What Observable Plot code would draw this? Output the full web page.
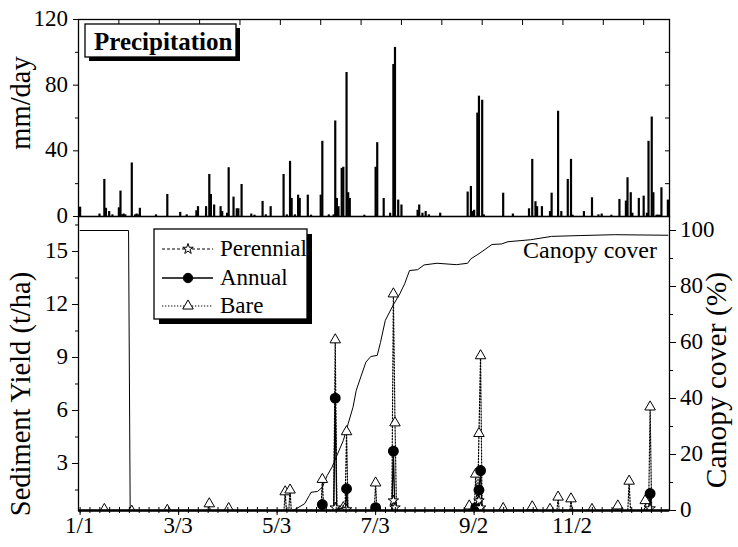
<!DOCTYPE html>
<html><head><meta charset="utf-8">
<script src="https://cdn.jsdelivr.net/npm/d3@7"></script>
<script src="https://cdn.jsdelivr.net/npm/@observablehq/plot@0.6"></script>
<style>
html,body{margin:0;padding:0;background:#fff;}
#chart{position:relative;width:738px;height:547px;}
#chart svg{position:absolute;left:0;top:0;}
.lbl{position:absolute;font-family:"Liberation Serif","Times New Roman",serif;line-height:1;white-space:nowrap;color:#000;}
</style></head><body><div id="chart"></div>
<script>
// ---- data ----
const precipDays = [1,13,16,17,19,21,25,26,27,28,29,33,35,36,37,38,48,55,63,67,73,74,79,81,82,84,88,89,92,93,96,98,99,101,107,109,114,116,119,127,129,131,132,134,136,137,142,144,150,151,155,158,159,160,161,163,164,166,167,168,177,184,185,189,193,195,196,198,200,210,211,213,215,217,224,241,243,244,245,247,248,250,251,263,269,279,281,283,284,287,292,293,297,299,303,305,306,313,318,322,324,330,335,339,340,342,343,347,350,352,353,355,356,358,359,360,361,365];
const precipVals = [5.7,1.5,22.6,5,3,1,5.3,15.5,1,1.5,1,32.6,1,1.5,1,5,1,13.4,2.5,1,3.5,6,6,25.6,13.4,7,6,3,2,29.7,11.8,4.7,4.7,19.5,1.5,0.8,9.2,1,6,25.6,1,33.6,11,1,13,11,13,0.8,13,45.8,1,1,58.2,11,6,29.3,30,87.7,14.5,11,0.8,30,45,11,2,92.6,103,10,7,3.8,7,2,3,1,2,14.9,18.3,3,3.8,63,73.3,70.8,1,14.2,1.5,4.7,34.8,9,6,6,3,14.2,64.1,3,22.6,34.8,0.8,3,11.4,1,1.5,0.8,10.4,9.4,23.6,14.5,2,11,12.4,2,45.8,60.6,14.5,0.8,0.8,0.8,17.5,10];

const perennialDays = [159,164,166,195,196,248,249,354];
const perennialVals = [0.5,0.35,0.4,0.9,0.5,0.9,0.5,0.45];
const annualDays = [151,159,166,184,195,246,248,249,354];
const annualVals = [0.68,6.7,1.57,0.5,3.7,0.5,1.5,2.6,1.3];
const bareDays = [16,33,55,81,93,128,131,151,159,164,166,184,195,196,242,246,248,249,263,281,292,297,305,318,334,341,351,354];
const bareVals = [0.4,0.3,0.35,0.72,0.45,1.4,1.5,2.1,10.0,0.5,4.8,1.9,12.6,5.3,0.6,2.4,4.7,9.1,0.45,0.55,0.4,1.1,1.0,0.4,0.6,2.0,0.9,6.2];

const canopyDays = [1,31,32,133,140,143,144,148,151,154,157,160,164,167,170,172,175,178,181,185,187,190,195,199,202,205,210,214,222,234,241,243,248,256,262,266,274,280,293,311,332,365];
const canopyVals = [100,100,0,0,2.4,5.4,6.5,6.8,8.3,12.5,15.5,19.6,25,31,36.9,42.9,48,53,55,55.4,60,67.9,73.5,77.4,81,85.7,86,87.7,88.3,87.8,88.3,89.9,91.7,95,95.2,96,96.4,96.7,97.9,98.2,98.5,98.3];

const xTickDays = [1,62,123,184,245,306];
const xTickLabels = ["1/1","3/3","5/3","7/3","9/2","11/2"];
const precipTicks = [0,40,80,120];
const precipMinor = [20,60,100];
const sedTicks = [3,6,9,12,15];
const sedMinor = [1.5,4.5,7.5,10.5,13.5,16.5];
const canopyTicks = [0,20,40,60,80,100];
const canopyMinor = [10,30,50,70,90];
const seriesNames = ["Perennial","Annual","Bare"];

// ---- tables ----
const precip = precipDays.map((d,i)=>({day:d, mm:precipVals[i]}));
const canopy = canopyDays.map((d,i)=>({day:d, cover:canopyVals[i]}));
const allDays = d3.range(1, 366);
function daily(days, vals){ const m = new Map(days.map((d,i)=>[d, vals[i]])); return allDays.map(d=>({day:d, t: m.get(d) ?? 0})); }
function events(days, vals){ return days.map((d,i)=>({day:d, t:vals[i]})); }
const perDaily = daily(perennialDays, perennialVals), annDaily = daily(annualDays, annualVals), bareDaily = daily(bareDays, bareVals);
const perEv = events(perennialDays, perennialVals), annEv = events(annualDays, annualVals), bareEv = events(bareDays, bareVals);

// ---- layout ----
const W=738, H=547, ML=78, MR=69;
const xDomain = [0, 366];
const sedDomain = [0.34, 16.98];
const common = {width:W, height:H, marginLeft:ML, marginRight:MR,
  style:{background:"transparent", color:"black", overflow:"visible"}};
const minorX = d3.range(1, 366, 6.1);
const topTicks = d3.range(25, 366, 25);
const noText = () => "";

// canopy layer (bottom)
const canopyChart = Plot.plot({...common, marginTop:216, marginBottom:37,
  x:{domain:xDomain, axis:null}, y:{domain:[0,105]},
  marks:[
    Plot.line(canopy, {x:"day", y:"cover", stroke:"black", strokeWidth:1}),
    Plot.axisY({anchor:"right", ticks:canopyTicks, tickSize:6, label:null, tickFormat:noText}),
    Plot.axisY({anchor:"right", ticks:canopyMinor, tickSize:3, label:null, tickFormat:noText})
  ]});

// sediment layer
const symR = {star:3.3, circle:4.7, triangle:3.9};
const sedChart = Plot.plot({...common, marginTop:216, marginBottom:37,
  x:{domain:xDomain}, y:{domain:sedDomain},
  marks:[
    Plot.line(bareDaily, {x:"day", y:"t", stroke:"black", strokeWidth:1.2, strokeDasharray:"1.3,1.7", clip:true}),
    Plot.line(perDaily, {x:"day", y:"t", stroke:"black", strokeWidth:1, strokeDasharray:"3,2", clip:true}),
    Plot.line(annDaily, {x:"day", y:"t", stroke:"black", strokeWidth:1.3, clip:true}),
    Plot.dot(bareEv, {x:"day", y:"t", symbol:"triangle", r:symR.triangle, fill:"white", stroke:"black", strokeWidth:1, clip:true}),
    Plot.dot(annEv, {x:"day", y:"t", symbol:"circle", r:symR.circle, fill:"black", stroke:"black", clip:true}),
    Plot.dot(perEv, {x:"day", y:"t", symbol:"star", r:symR.star, fill:"white", stroke:"black", strokeWidth:1, clip:true}),
    Plot.axisY({ticks:sedTicks, tickSize:6, label:null, tickFormat:noText}),
    Plot.axisY({ticks:sedMinor, tickSize:3, label:null, tickFormat:noText}),
    Plot.axisX({ticks:xTickDays, tickSize:5, label:null, tickFormat:noText}),
    Plot.axisX({ticks:minorX, tickSize:3, label:null, tickFormat:noText}),
    Plot.axisX({ticks:minorX, tickSize:-3, label:null, tickFormat:noText}),
    Plot.ruleY([sedDomain[0]], {stroke:"black", strokeWidth:2.5}),
    Plot.frame({stroke:"black", strokeWidth:1.3})
  ]});

// precipitation layer (top)
const topChart = Plot.plot({...common, marginTop:19, marginBottom:331,
  x:{domain:xDomain}, y:{domain:[0,120]},
  marks:[
    Plot.ruleX(precip, {x:"day", y1:0, y2:"mm", stroke:"black", strokeWidth:2.2}),
    Plot.axisY({ticks:precipTicks, tickSize:5, label:null, tickFormat:noText}),
    Plot.axisY({ticks:precipMinor, tickSize:3, label:null, tickFormat:noText}),
    Plot.axisY({anchor:"right", ticks:[...precipMinor, 40, 80], tickSize:-5, label:null, tickFormat:noText}),
    Plot.axisX({anchor:"top", ticks:topTicks, tickSize:-5, label:null, tickFormat:noText}),
    Plot.frame({stroke:"black", strokeWidth:1.3})
  ]});

const root = document.getElementById("chart");
root.append(canopyChart, sedChart, topChart);

// ---- boxes and legend symbols (SVG) ----
const tsvg = d3.select(topChart);
tsvg.append("rect").attr("x",89).attr("y",28).attr("width",151).attr("height",33).attr("fill","black");
tsvg.append("rect").attr("x",85).attr("y",24).attr("width",151).attr("height",33).attr("fill","white").attr("stroke","black").attr("stroke-width",1.3);
const ssvg = d3.select(sedChart);
const lg = ssvg.append("g");
lg.append("rect").attr("x",159).attr("y",234).attr("width",153).attr("height",90).attr("fill","black");
lg.append("rect").attr("x",154).attr("y",229).attr("width",153).attr("height",90).attr("fill","white").attr("stroke","black").attr("stroke-width",1.3);
const legendRows = [
  {name:seriesNames[0], y:249, dash:"3,2", sw:1, sym:d3.symbolStar, r:symR.star, fill:"white"},
  {name:seriesNames[1], y:278, dash:null, sw:1.3, sym:d3.symbolCircle, r:symR.circle, fill:"black"},
  {name:seriesNames[2], y:306, dash:"1.3,1.7", sw:1.2, sym:d3.symbolTriangle, r:symR.triangle, fill:"white"}
];
for (const row of legendRows){
  lg.append("line").attr("x1",162).attr("x2",213).attr("y1",row.y).attr("y2",row.y).attr("stroke","black").attr("stroke-width",row.sw).attr("stroke-dasharray",row.dash);
  lg.append("path").attr("transform",`translate(188,${row.y})`).attr("d",d3.symbol(row.sym, row.r*row.r*Math.PI)()).attr("fill",row.fill).attr("stroke","black").attr("stroke-width",1);
}

// ---- texts (HTML layer, positioned with the Plot scales) ----
const layer = document.createElement("div");
layer.style.cssText = "position:absolute;left:0;top:0;width:738px;height:547px;pointer-events:none;";
root.append(layer);
function label(s, x, y, {size=23, ax=0, ay=-0.52, rotate=0, bold=false}={}){
  const el = document.createElement("div");
  el.className = "lbl";
  el.textContent = s;
  el.style.left = x + "px"; el.style.top = y + "px";
  el.style.fontSize = size + "px";
  if (bold) el.style.fontWeight = "bold";
  el.style.transformOrigin = "50% 50%";
  el.style.transform = `translate(${ax*100}%,${ay*100}%)` + (rotate ? ` rotate(${rotate}deg)` : "");
  layer.append(el);
  return el;
}
const base = (baseline, size) => baseline - 0.8375*size;

const xs = sedChart.scale("x"), ySed = sedChart.scale("y"), yTop = topChart.scale("y"), yCan = canopyChart.scale("y");
for (const v of precipTicks) label(String(v), 68, yTop.apply(v), {ax:-1});
for (const v of sedTicks) label(String(v), 68, ySed.apply(v), {ax:-1});
for (const v of canopyTicks) label(String(v), 680, yCan.apply(v), {ax:0});
xTickDays.forEach((d,i)=> label(xTickLabels[i], xs.apply(d), base(533, 23), {ax:-0.5, ay:0}));

label("Precipitation", 94, base(49.5, 25), {size:25, ay:0, bold:true});
label("mm/day", 21, 103, {size:28.5, ax:-0.5, ay:-0.5, rotate:-90});
label("Sediment Yield (t/ha)", 21, 394, {size:28.5, ax:-0.5, ay:-0.5, rotate:-90});
label("Canopy cover (%)", 717, 380, {size:29.5, ax:-0.5, ay:-0.5, rotate:-90});
label("Canopy cover", 657, base(258, 24), {size:24, ax:-1, ay:0});
for (const row of legendRows) label(row.name, 220, row.y, {size:23});
</script></body></html>
